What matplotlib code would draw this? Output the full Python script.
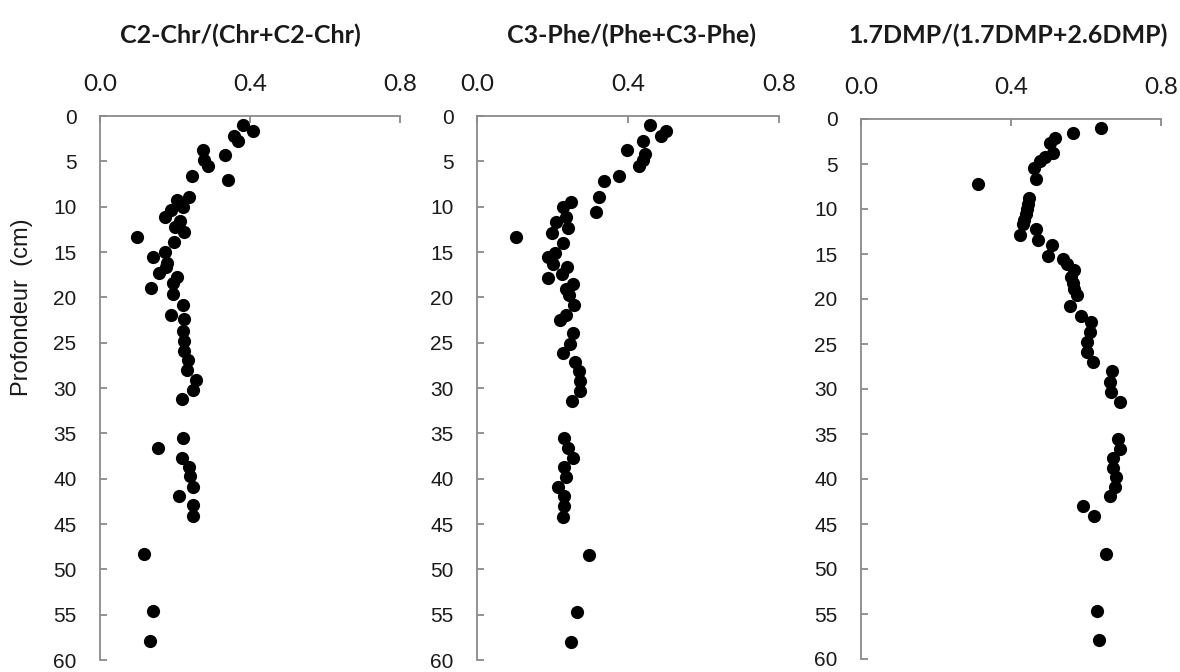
import matplotlib
matplotlib.use("Agg")
import matplotlib.pyplot as plt

# ---------------- data ----------------
titles = ["C2-Chr/(Chr+C2-Chr)", "C3-Phe/(Phe+C3-Phe)", "1.7DMP/(1.7DMP+2.6DMP)"]
x_ticks = [0.0, 0.4, 0.8]
x_tick_labels = ["0.0", "0.4", "0.8"]
y_ticks = [0, 5, 10, 15, 20, 25, 30, 35, 40, 45, 50, 55, 60]
y_label = "Profondeur  (cm)"

chr_ratio = [0.382, 0.407, 0.357, 0.369, 0.274, 0.333, 0.277, 0.289, 0.244, 0.342,
             0.236, 0.204, 0.220, 0.188, 0.172, 0.213, 0.200, 0.224, 0.098, 0.196,
             0.172, 0.140, 0.178, 0.176, 0.158, 0.206, 0.194, 0.136, 0.194, 0.222,
             0.188, 0.224, 0.222, 0.225, 0.224, 0.234, 0.231, 0.256, 0.249, 0.218,
             0.222, 0.154, 0.218, 0.236, 0.240, 0.249, 0.211, 0.247, 0.249, 0.118,
             0.140, 0.133]
chr_depth = [1.0, 1.6, 2.2, 2.75, 3.7, 4.3, 4.8, 5.5, 6.6, 7.1,
             8.9, 9.3, 10.0, 10.4, 11.1, 11.6, 12.2, 12.8, 13.4, 13.9,
             15.0, 15.6, 16.2, 16.7, 17.3, 17.8, 18.4, 19.0, 19.6, 20.8,
             21.9, 22.4, 23.7, 24.8, 25.9, 26.9, 28.0, 29.1, 30.2, 31.2,
             35.5, 36.6, 37.7, 38.7, 39.7, 40.9, 41.9, 42.9, 44.1, 48.3,
             54.6, 57.9]

phe_ratio = [0.457, 0.501, 0.487, 0.439, 0.398, 0.444, 0.439, 0.428, 0.377, 0.337,
             0.323, 0.248, 0.227, 0.315, 0.235, 0.209, 0.240, 0.198, 0.102, 0.228,
             0.206, 0.189, 0.200, 0.239, 0.224, 0.189, 0.253, 0.237, 0.244, 0.258,
             0.237, 0.221, 0.253, 0.246, 0.227, 0.259, 0.270, 0.273, 0.273, 0.252,
             0.230, 0.240, 0.255, 0.231, 0.237, 0.215, 0.230, 0.231, 0.228, 0.297,
             0.266, 0.248]
phe_depth = [1.0, 1.6, 2.2, 2.75, 3.8, 4.2, 4.9, 5.5, 6.6, 7.2,
             8.9, 9.5, 10.0, 10.6, 11.1, 11.7, 12.3, 12.9, 13.4, 14.0,
             15.1, 15.6, 16.3, 16.7, 17.4, 17.9, 18.5, 19.1, 19.7, 20.9,
             21.9, 22.5, 23.9, 25.1, 26.1, 27.1, 28.1, 29.2, 30.3, 31.4,
             35.5, 36.6, 37.7, 38.7, 39.8, 40.9, 41.9, 43.0, 44.2, 48.4,
             54.7, 58.0]

dmp_ratio = [0.641, 0.565, 0.518, 0.503, 0.511, 0.491, 0.478, 0.460, 0.467, 0.311,
             0.447, 0.445, 0.443, 0.440, 0.435, 0.432, 0.467, 0.423, 0.471, 0.509,
             0.498, 0.538, 0.549, 0.567, 0.560, 0.564, 0.569, 0.576, 0.556, 0.587,
             0.613, 0.611, 0.603, 0.603, 0.619, 0.669, 0.665, 0.667, 0.691, 0.685,
             0.691, 0.671, 0.671, 0.680, 0.676, 0.665, 0.591, 0.620, 0.653, 0.629,
             0.635]
dmp_depth = [1.0, 1.6, 2.1, 2.7, 3.8, 4.2, 4.7, 5.4, 6.7, 7.2,
             8.8, 9.4, 10.0, 10.6, 11.2, 11.7, 12.2, 12.9, 13.4, 14.0,
             15.2, 15.6, 16.1, 16.8, 17.5, 18.2, 18.9, 19.6, 20.8, 21.9,
             22.5, 23.7, 24.8, 25.9, 27.0, 28.0, 29.2, 30.3, 31.4, 35.6,
             36.7, 37.7, 38.8, 39.8, 40.9, 41.9, 43.0, 44.1, 48.3, 54.7,
             57.9]

series = [(chr_ratio, chr_depth), (phe_ratio, phe_depth), (dmp_ratio, dmp_depth)]

# ---------------- layout / style ----------------
W, H = 1180, 672
boxes = [(100, 116, 400, 660), (477, 116, 779, 660), (861, 119, 1161, 659)]
title_x = [0.467, 0.513, 0.49]
spine_col = "#8a8a8a"
text_col = "#1a1a1a"

fig = plt.figure(figsize=(W / 100, H / 100), dpi=100)

for i, ((xs, ys), (l, t, r, b)) in enumerate(zip(series, boxes)):
    ax = fig.add_axes([l / W, 1 - b / H, (r - l) / W, (b - t) / H])
    ax.plot(xs, ys, linestyle="none", marker="o", markersize=9.5,
            color="black", markeredgewidth=0)
    ax.set_xlim(0, 0.8)
    ax.set_ylim(60, 0)
    ax.xaxis.tick_top()
    ax.set_xticks(x_ticks)
    ax.set_xticklabels(x_tick_labels)
    ax.set_yticks(y_ticks)
    ax.set_yticklabels([str(v) for v in y_ticks])
    for s in ["bottom", "right"]:
        ax.spines[s].set_visible(False)
    for s in ["left", "top"]:
        ax.spines[s].set_color(spine_col)
        ax.spines[s].set_linewidth(1.3)
    ax.tick_params(axis="both", direction="in", color=spine_col,
                   length=5, width=1.3, labelcolor=text_col)
    ax.tick_params(axis="x", pad=15, labelsize=17.5)
    ax.tick_params(axis="y", pad=17, labelsize=15)
    for lbl in ax.get_xticklabels():
        lbl.set_fontfamily("Lato")
    for lbl in ax.get_yticklabels():
        lbl.set_fontfamily("Liberation Sans")
    top_gap = (t - 43) / (b - t)
    ax.text(title_x[i], 1 + top_gap, titles[i], transform=ax.transAxes,
            ha="center", va="baseline", fontsize=18, fontfamily="Lato",
            fontweight="bold", color=text_col)

fig.text(22 / W, 1 - 307 / H, y_label, rotation=90, ha="center", va="center",
         fontsize=17, fontfamily="Liberation Sans", color=text_col)

fig.savefig("out.png", dpi=100, facecolor="white")
